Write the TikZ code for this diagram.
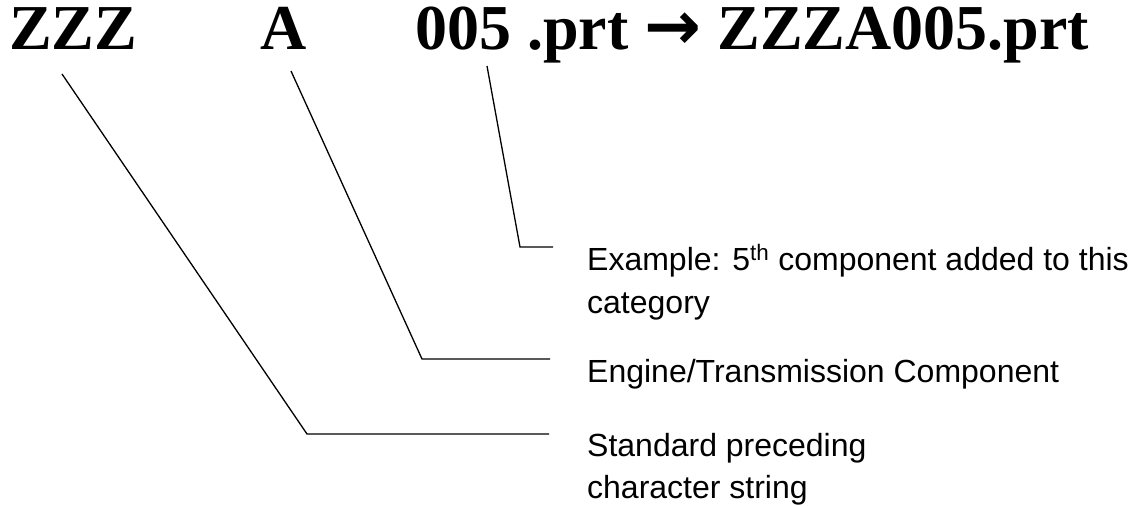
\documentclass[tikz,border=0pt]{standalone}
\usepackage{fontspec}
\setmainfont{Liberation Serif}
\newfontfamily\arialfont{Liberation Sans}
\newfontfamily\symfont{DejaVu Sans}
\begin{document}
\begin{tikzpicture}[x=1pt,y=-1pt,
  head/.style={inner sep=0pt, anchor=base west, font=\fontsize{64}{64}\selectfont\bfseries},
  lbl/.style={inner sep=0pt, anchor=base west, font=\arialfont\fontsize{32}{40}\selectfont},
  leader/.style={draw=black, line width=1.3pt}]
\useasboundingbox (0,0) rectangle (1136,506);
% heading
\node[head] (zzz) at (9,49) {ZZZ};
\node[head] (a) at (260,49) {A};
\node[head] (num) at (415,49) {005 .prt \smash{\symfont\fontsize{68}{68}\selectfont\bfseries →} ZZZA005.prt};
% labels
\node[lbl] (ex1) at (587,270) {Example: 5\textsuperscript{th} component added to this};
\node[lbl] (ex2) at (587,313) {category};
\node[lbl] (eng) at (587,382) {Engine/Transmission Component};
\node[lbl] (std1) at (587,456) {Standard preceding};
\node[lbl] (std2) at (587,498) {character string};
% leader points
\coordinate (s1) at (62,74);
\coordinate (b1) at (307,434);
\coordinate (e1) at (549,434);
\coordinate (s2) at (291,71);
\coordinate (b2) at (422,359);
\coordinate (e2) at (550,359);
\coordinate (s3) at (487,66);
\coordinate (b3) at (520,247);
\coordinate (e3) at (553,247);
\draw[leader] (s1) -- (b1) -- (e1);
\draw[leader] (s2) -- (b2) -- (e2);
\draw[leader] (s3) -- (b3) -- (e3);
\end{tikzpicture}
\end{document}
